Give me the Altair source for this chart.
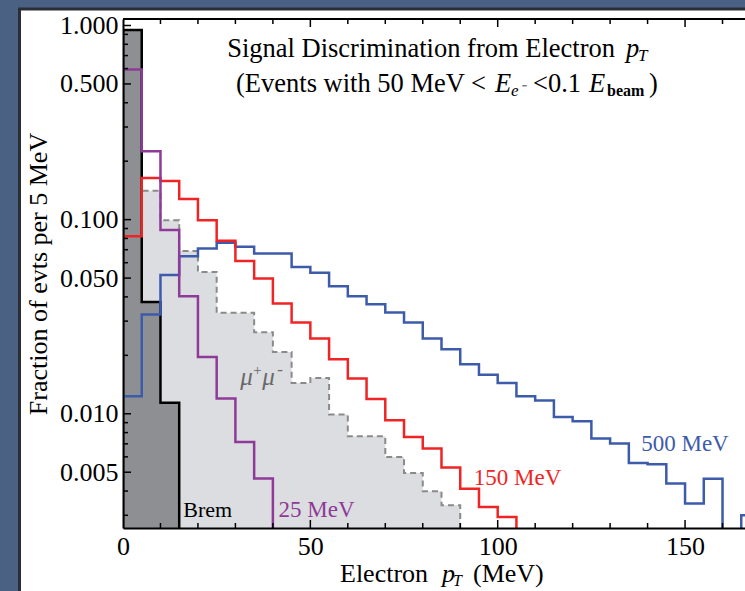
import altair as alt
import pandas as pd

BIN_WIDTH = 5  # MeV per bin; bin i covers [5i, 5i+5)

# Fraction of events per 5 MeV bin (0 = empty bin)
brem = [0.948, 0.0377, 0.0114]
mumu = [0.14, 0.1407, 0.0994, 0.069, 0.0538, 0.0331, 0.0331, 0.0263, 0.0208,
        0.0144, 0.0153, 0.0099, 0.00765, 0.00765, 0.00599, 0.00495, 0.00399, 0.00338]
ap25 = [0.594, 0.225, 0.0883, 0.0403, 0.0196, 0.01198, 0.00716, 0.00464]
ap150 = [0.0822, 0.164, 0.158, 0.1276, 0.0994, 0.0778, 0.0613, 0.0498, 0.037,
         0.0295, 0.0244, 0.0191, 0.0152, 0.0119, 0.00925, 0.00759, 0.00662,
         0.00528, 0.00411, 0.00331, 0.00294]
ap500 = [0.0123, 0.0325, 0.0518, 0.0648, 0.071, 0.076, 0.0724, 0.067, 0.067,
         0.0571, 0.0532, 0.0454, 0.0403, 0.0367, 0.0332, 0.0295, 0.0244, 0.0215,
         0.018, 0.0159, 0.0144, 0.0123, 0.0117, 0.00963, 0.00915, 0.00745,
         0.00702, 0.00558, 0.0055, 0.00437, 0.00345, 0.00463, 0.0, 0.003]

x_labels = [0, 50, 100, 150]
x_minor = [10, 20, 30, 40, 60, 70, 80, 90, 110, 120, 130, 140, 160]
y_labels = [1.0, 0.5, 0.1, 0.05, 0.01, 0.005]
y_minor = [0.003, 0.004, 0.006, 0.007, 0.008, 0.009,
           0.02, 0.03, 0.04, 0.06, 0.07, 0.08, 0.09,
           0.2, 0.3, 0.4, 0.6, 0.7, 0.8, 0.9]

label_text = ["Brem", "25 MeV", "150 MeV", "500 MeV"]
label_pt = [16.1, 41.5, 93.6, 138.3]
label_frac = [0.00294, 0.00294, 0.00428, 0.00643]
mumu_label_pt = 31.3
mumu_label_frac = 0.01402

# ---- layout / style ----
SERIF = "Liberation Serif"
W, H = 622, 509
FLOOR = 1e-3
X_DOMAIN = [0, 166]
Y_DOMAIN = [0.00258, 1.08]
BG = "#4a6184"

PURPLE = "#8e3a98"
RED = "#f02424"
BLUE = "#3d5bab"
MU_GREY = "#6a6a6a"
label_color = ["black", PURPLE, RED, BLUE]
label_size = [22, 23, 23, 23]


def step_frame(vals):
    xs = [i * BIN_WIDTH for i in range(len(vals) + 1)]
    ys = [v if v > 0 else FLOOR for v in vals] + [FLOOR]
    return pd.DataFrame({"pt": xs, "frac": ys, "base": [FLOOR] * len(xs)})


xscale = alt.Scale(domain=X_DOMAIN, nice=False, zero=False)
yscale = alt.Scale(type="log", domain=Y_DOMAIN, nice=False)
x_axis = alt.Axis(values=x_labels, format="d", ticks=False, grid=False,
                  labelPadding=5, labelFlush=False, title=None,
                  domainColor="black", domainWidth=2,
                  labelFont=SERIF, labelFontSize=26, labelColor="black", zindex=1)
y_axis = alt.Axis(values=y_labels, format=".3f", ticks=False, grid=False,
                  labelPadding=5, labelFlush=False, title="Fraction of evts per 5 MeV",
                  titleFont=SERIF, titleFontSize=26, titleFontWeight="normal",
                  titleColor="black", titlePadding=8,
                  domainColor="black", domainWidth=2,
                  labelFont=SERIF, labelFontSize=26, labelColor="black", zindex=1)

X = alt.X("pt:Q", scale=xscale, axis=x_axis)
Y = alt.Y("frac:Q", scale=yscale, axis=y_axis)
one = pd.DataFrame({"k": [0]})

panel = alt.Chart(one).mark_rect(fill="white", stroke="#2a2f36", strokeWidth=3).encode(
    x=alt.value(-103.5), x2=alt.value(W + 40), y=alt.value(-10), y2=alt.value(H + 100))

mumu_fill = alt.Chart(step_frame(mumu)).mark_area(
    interpolate="step-after", color="#dcdde0", clip=True).encode(x=X, y=Y, y2="base:Q")
mumu_line = alt.Chart(step_frame(mumu)).mark_line(
    interpolate="step-after", color="#8a8a8a", strokeWidth=2, strokeDash=[6, 4],
    clip=True).encode(x=X, y=Y)
brem_fill = alt.Chart(step_frame(brem)).mark_area(
    interpolate="step-after", color="#8e8f93", stroke="black", strokeWidth=2.5,
    clip=True).encode(x=X, y=Y, y2="base:Q")


def step_line(vals, color):
    return alt.Chart(step_frame(vals)).mark_line(
        interpolate="step-after", color=color, strokeWidth=2.5, clip=True).encode(x=X, y=Y)


l500 = step_line(ap500, BLUE)
l150 = step_line(ap150, RED)
l25 = step_line(ap25, PURPLE)

# inward ticks
xt_major = pd.DataFrame({"pt": x_labels[1:]})
xt_minor = pd.DataFrame({"pt": x_minor})
yt_major = pd.DataFrame({"frac": y_labels})
yt_minor = pd.DataFrame({"frac": y_minor})
TK = dict(color="black", strokeWidth=1.5)
ticks = [
    alt.Chart(xt_major).mark_rule(**TK).encode(x=X, y=alt.value(H), y2=alt.value(H - 8)),
    alt.Chart(xt_minor).mark_rule(**TK).encode(x=X, y=alt.value(H), y2=alt.value(H - 5)),
    alt.Chart(xt_major).mark_rule(**TK).encode(x=X, y=alt.value(0), y2=alt.value(8)),
    alt.Chart(xt_minor).mark_rule(**TK).encode(x=X, y=alt.value(0), y2=alt.value(5)),
    alt.Chart(yt_major).mark_rule(**TK).encode(y=Y, x=alt.value(0), x2=alt.value(8)),
    alt.Chart(yt_minor).mark_rule(**TK).encode(y=Y, x=alt.value(0), x2=alt.value(5)),
]
top_border = alt.Chart(one).mark_rule(color="black", strokeWidth=2).encode(
    x=alt.value(0), x2=alt.value(W), y=alt.value(0))

labels = []
for t, p, f, c, z in zip(label_text, label_pt, label_frac, label_color, label_size):
    labels.append(alt.Chart(pd.DataFrame({"pt": [p], "frac": [f]})).mark_text(
        text=t, font=SERIF, fontSize=z, color=c, align="left",
        baseline="alphabetic").encode(x=X, y=Y))

# mu+ mu- label, built from pieces anchored at one data point
mu_df = pd.DataFrame({"pt": [mumu_label_pt], "frac": [mumu_label_frac]})
for t, dx, dy, z in [("μ", 0, 0, 25), ("+", 12, -10, 15), ("μ", 22, 0, 25), ("-", 37, -10, 17)]:
    labels.append(alt.Chart(mu_df).mark_text(
        text=t, font=SERIF, fontSize=z, fontStyle="italic", color=MU_GREY,
        align="left", baseline="alphabetic", dx=dx, dy=dy).encode(x=X, y=Y))


def txt(text, x, y, size=26, style="normal", weight="normal", align="left"):
    return alt.Chart(one).mark_text(
        text=text, font=SERIF, fontSize=size, fontStyle=style, fontWeight=weight,
        color="black", align=align, baseline="alphabetic").encode(
        x=alt.value(x), y=alt.value(y))


titles = [
    txt("Signal Discrimination from Electron", 492, 38, size=26.5, align="right"),
    txt("p", 503, 38, size=26.5, style="italic"),
    txt("T", 515, 42, size=17, style="italic"),
    txt("(Events with 50 MeV <", 363, 73, size=26.5, align="right"),
    txt("E", 372, 73, size=26.5, style="italic"),
    txt("e⁻", 388, 77, size=17, style="italic"),
    txt("<0.1", 410, 73, size=26.5),
    txt("E", 466, 73, size=26.5, style="italic"),
    txt("beam", 484, 77, size=16, weight="bold"),
    txt(")", 526, 73, size=26.5),
    # x-axis title
    txt("Electron", 217, 563),
    txt("p", 319, 563, style="italic"),
    txt("T", 330, 567, size=16, style="italic"),
    txt("(MeV)", 350, 563),
]

chart = alt.layer(
    panel, mumu_fill, mumu_line, brem_fill, l500, l150, l25,
    *ticks, top_border, *labels, *titles
).properties(
    width=W, height=H,
    autosize=alt.AutoSizeParams(type="none"),
    padding={"left": 123, "top": 19, "right": 0, "bottom": 63},
).configure(background=BG).configure_view(stroke="transparent")

chart.save("out.html", embed_options={"renderer": "svg", "actions": False})
